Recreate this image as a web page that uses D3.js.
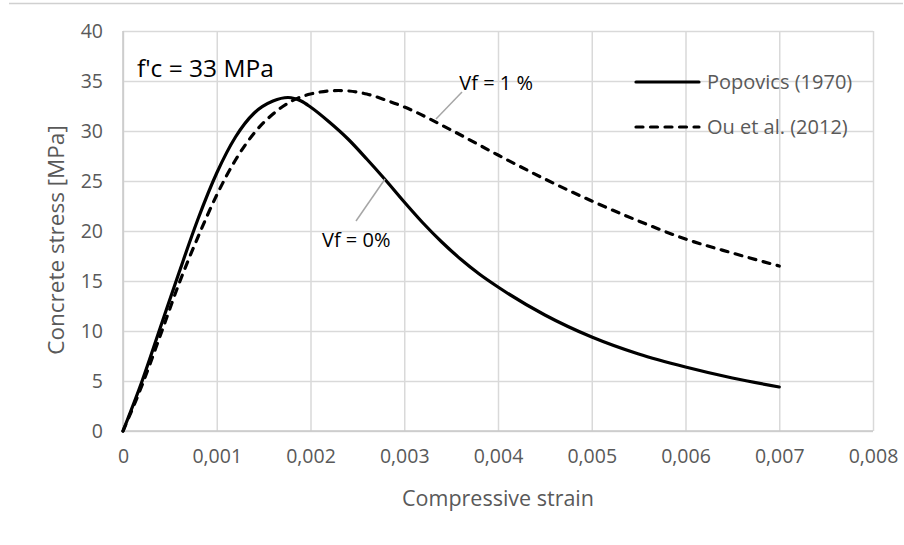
<!DOCTYPE html>
<html>
<head>
<meta charset="utf-8">
<script src="https://cdn.jsdelivr.net/npm/d3@7"></script>
<style>
  body { margin: 0; background: #fff; }
  text { font-family: "Open Sans", sans-serif; }
</style>
</head>
<body>
<div class="root"></div>
<script>
// strain values (compressive strain, -)
var popovicsStrain = [0, 0.0002, 0.0004, 0.0006, 0.0008, 0.001, 0.0012, 0.0014, 0.0016, 0.00176, 0.0019, 0.002, 0.0022, 0.0024, 0.0026, 0.0028, 0.003, 0.0032, 0.0034, 0.0036, 0.0038, 0.004, 0.0045, 0.005, 0.0055, 0.006, 0.0065, 0.007];
var popovicsStress = [0, 4.9, 10.4, 15.9, 21.2, 25.8, 29.4, 31.8, 33.0, 33.35, 33.0, 32.4, 30.9, 29.2, 27.2, 25.1, 22.9, 20.8, 18.9, 17.2, 15.7, 14.4, 11.6, 9.4, 7.7, 6.4, 5.3, 4.4];

var ouStrain = [0, 0.0002, 0.0004, 0.0006, 0.0008, 0.001, 0.0012, 0.0014, 0.0016, 0.0018, 0.002, 0.0023, 0.0026, 0.0028, 0.003, 0.0035, 0.004, 0.0045, 0.005, 0.0055, 0.006, 0.0065, 0.007];
var ouStress = [0, 4.5, 9.6, 14.8, 19.4, 23.6, 27.1, 29.8, 31.7, 33.0, 33.7, 34.05, 33.7, 33.1, 32.4, 30.1, 27.6, 25.2, 23.0, 21.0, 19.2, 17.8, 16.5];

var xTicks = [0, 0.001, 0.002, 0.003, 0.004, 0.005, 0.006, 0.007, 0.008];
var yTicks = [0, 5, 10, 15, 20, 25, 30, 35, 40];
var seriesNames = ["Popovics (1970)", "Ou et al. (2012)"];

var width = 904,
    height = 545,
    margin = {top: 31, right: 31, bottom: 114, left: 123},
    grey = "#595959";

var svg = d3.select(".root")
  .append("svg")
  .attr("width", width)
  .attr("height", height);

// thin border line across the top of the chart area
svg.append("line")
  .attr("x1", 9).attr("x2", 903)
  .attr("y1", 3.5).attr("y2", 3.5)
  .attr("stroke", "#d0d0d0")
  .attr("stroke-width", 1.5);

var x = d3.scaleLinear()
  .domain([0, 0.008])
  .range([margin.left, width - margin.right]);

var y = d3.scaleLinear()
  .domain([0, 40])
  .range([height - margin.bottom, margin.top]);

var fmt = function(d) { return d === 0 ? "0" : d3.format(".3f")(d).replace(".", ","); };

// grid + tick labels
svg.append("g")
  .attr("transform", "translate(0," + (height - margin.bottom) + ")")
  .call(d3.axisBottom(x).tickValues(xTicks).tickSize(-(height - margin.top - margin.bottom)).tickFormat(fmt).tickPadding(18))
  .call(g => g.select(".domain").remove())
  .call(g => g.selectAll(".tick line").attr("stroke", "#d9d9d9").attr("stroke-width", 1.5))
  .call(g => g.selectAll(".tick text").attr("fill", grey).style("font-size", "19.5px").style("font-family", "Open Sans"));

svg.append("g")
  .attr("transform", "translate(" + margin.left + ",0)")
  .call(d3.axisLeft(y).tickValues(yTicks).tickSize(-(width - margin.left - margin.right)).tickPadding(20))
  .call(g => g.select(".domain").remove())
  .call(g => g.selectAll(".tick line").attr("stroke", "#d9d9d9").attr("stroke-width", 1.5))
  .call(g => g.selectAll(".tick text").attr("fill", grey).style("font-size", "19.5px").style("font-family", "Open Sans"));

// axis lines
svg.append("line")
  .attr("x1", x(0)).attr("x2", x(0.008))
  .attr("y1", y(0)).attr("y2", y(0))
  .attr("stroke", "#c8c8c8").attr("stroke-width", 1.5);
svg.append("line")
  .attr("x1", x(0)).attr("x2", x(0))
  .attr("y1", y(0)).attr("y2", y(40))
  .attr("stroke", "#c8c8c8").attr("stroke-width", 1.5);

// axis titles
svg.append("text")
  .attr("x", (x(0) + x(0.008)) / 2)
  .attr("y", 506)
  .attr("text-anchor", "middle")
  .attr("fill", grey)
  .style("font-size", "21.5px")
  .text("Compressive strain");

svg.append("text")
  .attr("transform", "translate(64," + ((y(0) + y(40)) / 2 + 9) + ") rotate(-90)")
  .attr("text-anchor", "middle")
  .attr("fill", grey)
  .style("font-size", "22.5px")
  .text("Concrete stress [MPa]");

var line = d3.line()
  .x(d => x(d[0]))
  .y(d => y(d[1]))
  .curve(d3.curveMonotoneX);

var popovics = d3.zip(popovicsStrain, popovicsStress),
    ou = d3.zip(ouStrain, ouStress);

svg.append("path")
  .datum(popovics)
  .attr("d", line)
  .attr("fill", "none")
  .attr("stroke", "#000")
  .attr("stroke-width", 3.2)
  .attr("stroke-linecap", "round");

svg.append("path")
  .datum(ou)
  .attr("d", line)
  .attr("fill", "none")
  .attr("stroke", "#000")
  .attr("stroke-width", 3.2)
  .attr("stroke-dasharray", "7,7.5")
  .attr("stroke-linecap", "round");

// legend
var legend = svg.append("g");
[0, 1].forEach(function(i) {
  var ly = 82 + i * 45;
  legend.append("line")
    .attr("x1", 636).attr("x2", 699)
    .attr("y1", ly).attr("y2", ly)
    .attr("stroke", "#000")
    .attr("stroke-width", 3.2)
    .attr("stroke-linecap", "round")
    .attr("stroke-dasharray", i === 1 ? "7,7.5" : null);
  legend.append("text")
    .attr("x", 707)
    .attr("y", ly + 7)
    .attr("fill", grey)
    .style("font-size", "20px")
    .text(seriesNames[i]);
});

// annotations
svg.append("text")
  .attr("x", 137).attr("y", 77)
  .attr("fill", "#000")
  .style("font-size", "24.5px")
  .text("f'c = 33 MPa");

svg.append("line")
  .attr("x1", 356).attr("y1", 221)
  .attr("x2", 385).attr("y2", 179)
  .attr("stroke", "#a6a6a6").attr("stroke-width", 1.5);
svg.append("text")
  .attr("x", 322).attr("y", 247)
  .attr("fill", "#000")
  .style("font-size", "20px")
  .text("Vf = 0%");

svg.append("line")
  .attr("x1", 462).attr("y1", 92)
  .attr("x2", 436).attr("y2", 119)
  .attr("stroke", "#a6a6a6").attr("stroke-width", 1.5);
svg.append("text")
  .attr("x", 533).attr("y", 90)
  .attr("text-anchor", "end")
  .attr("fill", "#000")
  .style("font-size", "20px")
  .text("Vf = 1 %");
</script>
</body>
</html>
